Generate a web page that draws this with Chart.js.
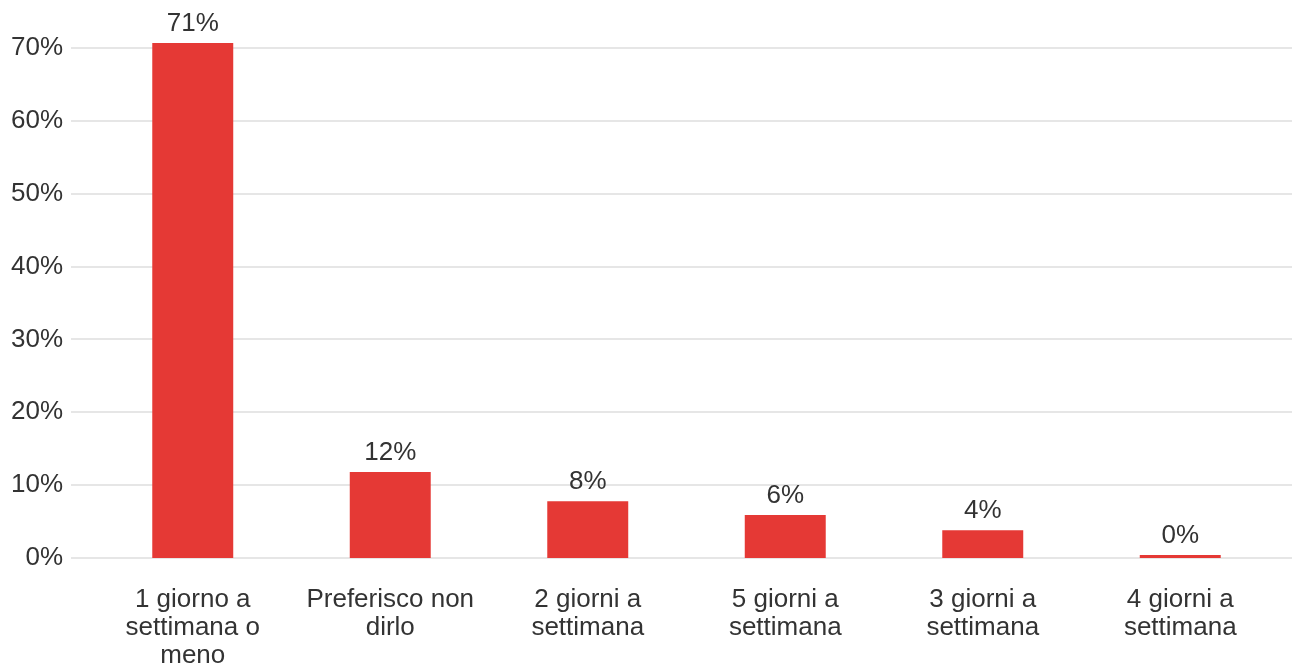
<!DOCTYPE html>
<html>
<head>
<meta charset="utf-8">
<script src="https://cdn.jsdelivr.net/npm/chart.js@4/dist/chart.umd.min.js"></script>
<style>
  html, body { margin: 0; padding: 0; background: #fff; }
  canvas { display: block; }
</style>
</head>
<body>
<canvas id="chart" width="1292" height="666"></canvas>
<script>
// categories (already split into lines as shown)
var categories = [
    ["1 giorno a", "settimana o", "meno"],
    ["Preferisco non", "dirlo"],
    ["2 giorni a", "settimana"],
    ["5 giorni a", "settimana"],
    ["3 giorni a", "settimana"],
    ["4 giorni a", "settimana"]
];
// percentages
var percentages = [70.7, 11.8, 7.8, 5.9, 3.8, 0.4];
var yTicks = [0, 10, 20, 30, 40, 50, 60, 70];

var barColor = '#e53935';
var textColor = '#333333';
var gridColor = '#e6e6e6';
var fontFamily = '"Liberation Sans", Arial, sans-serif';

// draws the horizontal grid lines across the full width, from the y scale
var gridPlugin = {
    id: 'fullGrid',
    beforeDatasetsDraw: function (chart) {
        var ctx = chart.ctx, y = chart.scales.y;
        ctx.save();
        ctx.strokeStyle = gridColor;
        ctx.lineWidth = 2;
        yTicks.forEach(function (t) {
            var py = Math.round(y.getPixelForValue(t));
            ctx.beginPath();
            ctx.moveTo(71, py);
            ctx.lineTo(chart.width, py);
            ctx.stroke();
        });
        ctx.restore();
    }
};

// value labels above bars
var labelPlugin = {
    id: 'barLabels',
    afterDatasetsDraw: function (chart) {
        var ctx = chart.ctx;
        var meta = chart.getDatasetMeta(0);
        ctx.save();
        ctx.font = '26px ' + fontFamily;
        ctx.fillStyle = textColor;
        ctx.textAlign = 'center';
        ctx.textBaseline = 'middle';
        meta.data.forEach(function (bar, i) {
            ctx.fillText(Math.round(percentages[i]) + '%', bar.x, bar.y - 19);
        });
        ctx.restore();
    }
};

new Chart(document.getElementById('chart'), {
    type: 'bar',
    data: {
        labels: categories,
        datasets: [{
            data: percentages,
            backgroundColor: barColor,
            borderWidth: 0,
            barPercentage: 0.41,
            categoryPercentage: 1.0,
            clip: false
        }]
    },
    options: {
        responsive: false,
        animation: false,
        layout: { padding: { left: 0, right: 13, top: 0, bottom: 0 } },
        plugins: {
            legend: { display: false },
            tooltip: { enabled: false }
        },
        scales: {
            x: {
                grid: { display: false, drawTicks: false },
                border: { display: false },
                ticks: {
                    color: textColor,
                    font: { family: fontFamily, size: 26, lineHeight: '28px' },
                    padding: 28,
                    maxRotation: 0,
                    autoSkip: false
                },
                afterFit: function (scale) { scale.height = 108; }
            },
            y: {
                min: 0,
                max: 70.2,
                bounds: 'data',
                grid: { display: false, drawTicks: false },
                border: { display: false },
                ticks: {
                    stepSize: 10,
                    includeBounds: false,
                    padding: 31,
                    color: textColor,
                    font: { family: fontFamily, size: 26 },
                    callback: function (v) { return v + '%'; }
                },
                afterBuildTicks: function (scale) {
                    scale.ticks = yTicks.map(function (v) { return { value: v }; });
                },
                afterFit: function (scale) { scale.width = 94; }
            }
        }
    },
    plugins: [gridPlugin, labelPlugin]
});
</script>
</body>
</html>
